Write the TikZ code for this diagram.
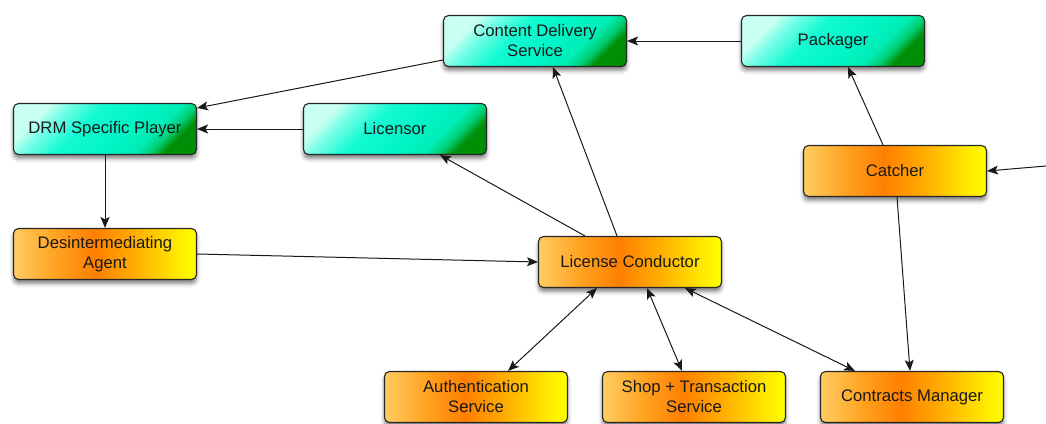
\documentclass[tikz,border=0pt]{standalone}
\usepackage{fontspec}
\setmainfont{Liberation Sans}
\usetikzlibrary{arrows.meta,shadows.blur}

% diagonal aqua-to-green fill and horizontal orange-to-yellow fill
\pgfdeclarehorizontalshading{aquagreen}{100bp}{%
  rgb(0bp)=(0.78,1,0.95);
  rgb(26bp)=(0.78,1,0.95);
  rgb(31bp)=(0.5,1,0.91);
  rgb(42bp)=(0.08,0.98,0.83);
  rgb(56bp)=(0,0.96,0.78);
  rgb(66bp)=(0,0.93,0.71);
  rgb(71bp)=(0,0.8,0.44);
  rgb(75bp)=(0,0.56,0.03);
  rgb(100bp)=(0,0.55,0.02)}
\pgfdeclarehorizontalshading{orangeyellow}{100bp}{%
  rgb(0bp)=(1,0.8,0.38);
  rgb(25bp)=(1,0.8,0.38);
  rgb(37bp)=(1,0.63,0.12);
  rgb(47bp)=(1,0.5,0);
  rgb(58bp)=(1,0.68,0);
  rgb(70bp)=(1,0.92,0);
  rgb(75bp)=(1,1,0);
  rgb(100bp)=(1,1,0)}

\tikzset{
  box/.style={draw=black!85, line width=1.1pt, rounded corners=5pt,
    minimum width=183pt, minimum height=51pt, align=center,
    text=black!90, font=\fontsize{16.7}{20}\selectfont,
    blur shadow={shadow xshift=0pt, shadow yshift=-4pt,
      shadow blur radius=4pt, shadow opacity=50}},
  greenbox/.style={box, shading=aquagreen, shading angle=-45},
  orangebox/.style={box, shading=orangeyellow},
  link/.style={draw=black!90, line width=1pt,
    -{Stealth[length=11pt,width=9pt,inset=2.5pt]}},
  duplex/.style={link,
    {Stealth[length=11pt,width=9pt,inset=2.5pt]}-{Stealth[length=11pt,width=9pt,inset=2.5pt]}}
}

\begin{document}
\begin{tikzpicture}[x=1pt,y=-1pt]
\useasboundingbox (0,0) rectangle (1046,423);

% service boxes
\node[greenbox] (cds)   at (535,41)  {Content Delivery\\Service};
\node[greenbox] (pack)  at (833,41)  {Packager};
\node[greenbox] (drm)   at (105,129) {DRM Specific Player};
\node[greenbox] (lic)   at (395,129) {Licensor};
\node[orangebox] (catch) at (895,171) {Catcher};
\node[orangebox] (dis)   at (105,254) {Desintermediating\\Agent};
\node[orangebox] (lc)    at (630,262) {License Conductor};
\node[orangebox] (auth)  at (476,397) {Authentication\\Service};
\node[orangebox] (shop)  at (694,397) {Shop + Transaction\\Service};
\node[orangebox] (cm)    at (912,397) {Contracts Manager};

% incoming feed at the right edge
\coordinate (feed) at (1046,166);

% flows
\draw[link] (pack.west) -- (cds.east);
\draw[link] ([yshift=-19pt]cds.west) -- ([yshift=21pt]drm.east);
\draw[link] (lic.west) -- (drm.east);
\draw[link] (drm.south) -- (dis.north);
\draw[link] (dis.east) -- (lc.west);
\draw[link] ([xshift=-45pt]lc.north) -- ([xshift=45pt]lic.south);
\draw[link] ([xshift=-13pt]lc.north) -- ([xshift=18pt]cds.south);
\draw[link] ([xshift=-12pt]catch.north) -- ([xshift=15pt]pack.south);
\draw[link] (feed) -- (catch.east);
\draw[link] ([xshift=2pt]catch.south) -- ([xshift=-2pt]cm.north);
\draw[duplex] ([xshift=-33pt]lc.south) -- ([xshift=32pt]auth.north);
\draw[duplex] ([xshift=17pt]lc.south) -- ([xshift=-12pt]shop.north);
\draw[duplex] ([xshift=55pt]lc.south) -- ([xshift=-57pt]cm.north);
\end{tikzpicture}
\end{document}
